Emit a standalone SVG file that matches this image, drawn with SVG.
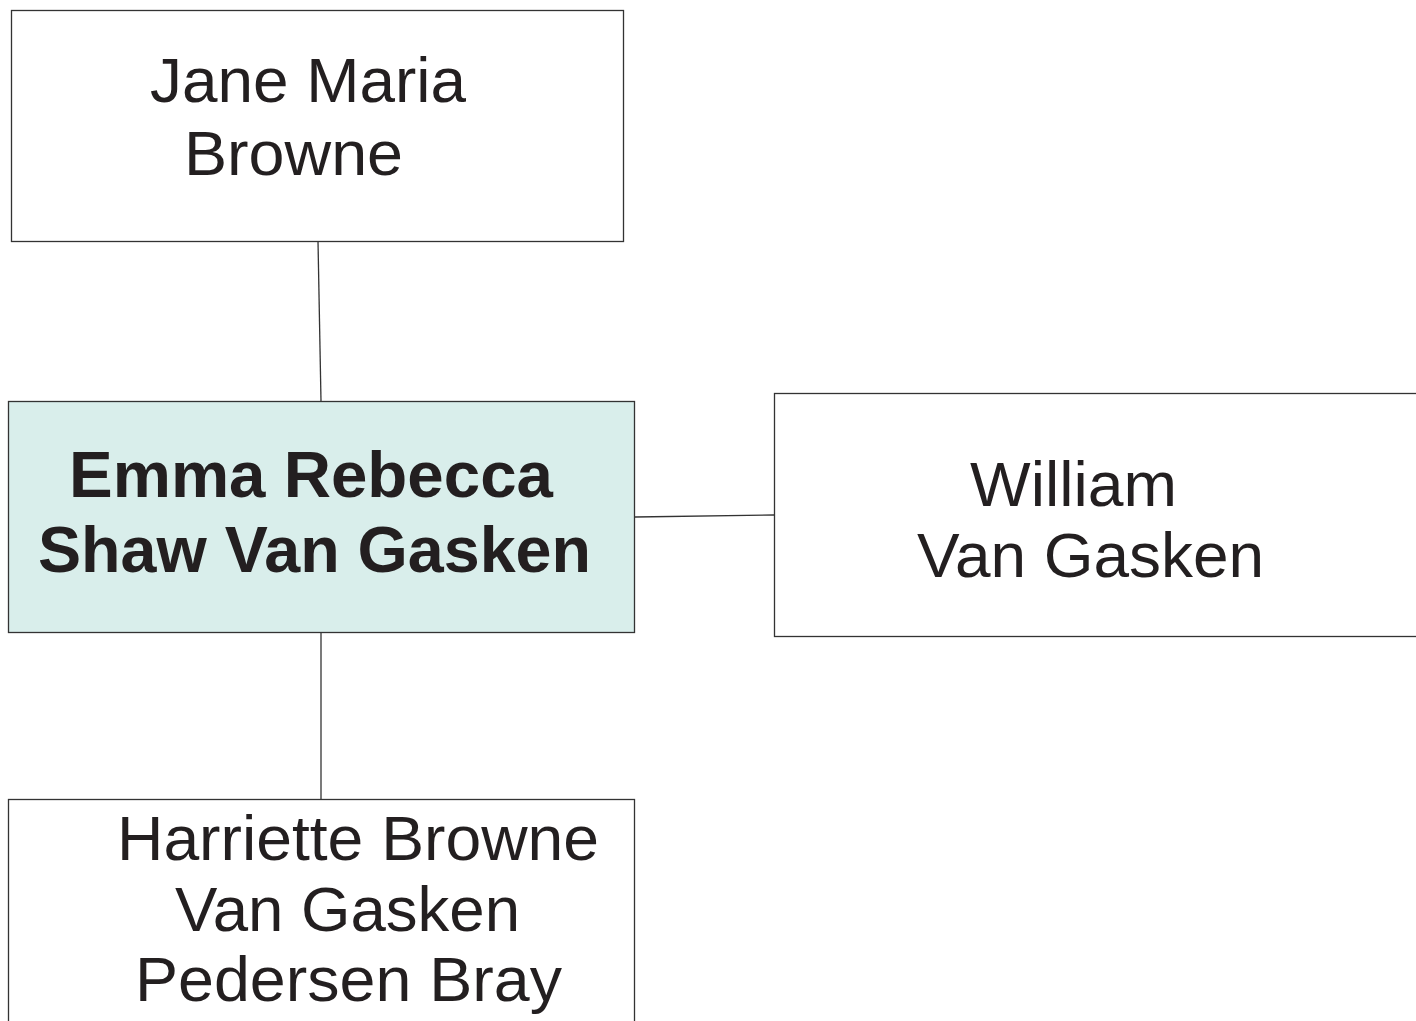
<svg xmlns="http://www.w3.org/2000/svg" width="1416" height="1021" viewBox="0 0 1416 1021">
<style>
.box{fill:#ffffff;stroke:#333333;stroke-width:1.3}
.focus{fill:#d9eeeb;stroke:#333333;stroke-width:1.3}
.t{font-family:"Liberation Sans",Arial,sans-serif;font-size:63px;fill:#231f20}
.b{font-weight:bold;font-size:64px}
.c{stroke:#333333;stroke-width:1.3;fill:none}
</style>
<rect width="1416" height="1021" fill="#ffffff"/>
<g id="connectors">
<line class="c" x1="318" y1="241" x2="321" y2="401"/>
<line class="c" x1="635" y1="517" x2="774" y2="515"/>
<line class="c" x1="321" y1="632" x2="321" y2="799"/>
</g>
<g id="jane">
<rect class="box" x="11.5" y="10.5" width="612" height="231"/>
<text class="t" x="150" y="102" textLength="316" lengthAdjust="spacingAndGlyphs">Jane Maria</text>
<text class="t" x="184" y="175" textLength="219" lengthAdjust="spacingAndGlyphs">Browne</text>
</g>
<g id="emma">
<rect class="focus" x="8.5" y="401.5" width="626" height="231"/>
<text class="t b" x="69" y="497" textLength="484" lengthAdjust="spacingAndGlyphs">Emma Rebecca</text>
<text class="t b" x="38" y="572" textLength="553" lengthAdjust="spacingAndGlyphs">Shaw Van Gasken</text>
</g>
<g id="william">
<rect class="box" x="774.5" y="393.5" width="660" height="243"/>
<text class="t" x="970" y="506" textLength="207" lengthAdjust="spacingAndGlyphs">William</text>
<text class="t" x="917" y="577" textLength="347" lengthAdjust="spacingAndGlyphs">Van Gasken</text>
</g>
<g id="harriette">
<rect class="box" x="8.5" y="799.5" width="626" height="240"/>
<text class="t" x="117" y="860" textLength="482" lengthAdjust="spacingAndGlyphs">Harriette Browne</text>
<text class="t" x="175" y="931" textLength="345" lengthAdjust="spacingAndGlyphs">Van Gasken</text>
<text class="t" x="135" y="1001" textLength="427" lengthAdjust="spacingAndGlyphs">Pedersen Bray</text>
</g>
</svg>
